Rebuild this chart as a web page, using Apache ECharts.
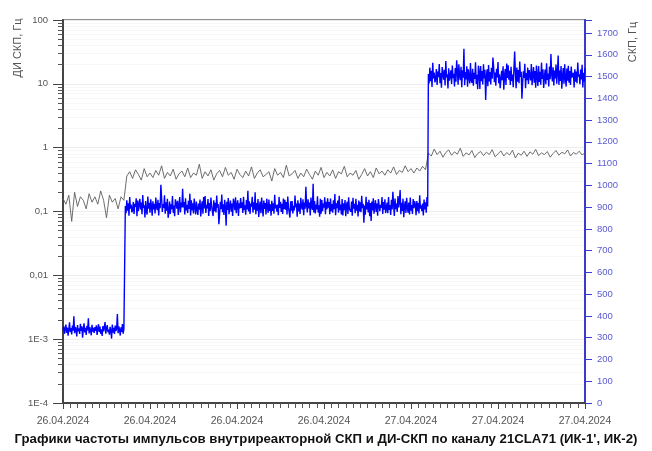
<!DOCTYPE html>
<html>
<head>
<meta charset="utf-8">
<script src="https://cdn.jsdelivr.net/npm/echarts/dist/echarts.min.js"></script>
<style>html,body{margin:0;padding:0;background:#fff}#c{width:652px;height:451px}</style>
</head>
<body>
<div id="c"></div>
<script>
// X axis: hours from 26.04.2024 00:00, labels every 6 h
const xTickLabels = ['26.04.2024','26.04.2024','26.04.2024','26.04.2024','27.04.2024','27.04.2024','27.04.2024'];
const leftTickLabels = ['1E-4','1E-3','0,01','0,1','1','10','100'];
const titleText = "Графики частоты импульсов внутриреакторной СКП и ДИ-СКП по каналу 21CLA71 (ИК-1', ИК-2)";

// СКП, Гц (right axis), sampled every 0.05 h
const skpStepHours = 0.05;
const skpValues = [
335,352,318,341,360,322,347,309,338,371,326,344,315,356,332,398,321,349,337,306,358,329,343,317,364,331,352,300,339,366,324,346,313,355,334,389,320,348,336,311,359,328,345,
322,349,331,357,313,340,362,327,351,318,339,308,354,329,346,372,319,342,358,325,337,314,350,333,296,361,323,345,317,356,330,343,409,321,352,336,310,348,327,363,319,341,332,
905,872,931,884,918,861,947,893,912,876,
887,924,869,915,902,941,858,930,881,912,
938,889,921,868,956,897,909,853,928,882,
866,949,893,920,874,936,905,861,927,890,
915,871,944,901,887,934,862,919,895,1003,
943,878,914,897,955,870,922,884,938,851,
878,926,869,913,891,951,874,907,858,936,
917,893,929,864,908,946,876,921,899,984,
899,923,866,941,885,911,873,929,892,962,
862,932,885,918,871,940,903,867,926,889,
864,917,888,935,857,904,927,870,946,894,
951,873,911,895,937,860,919,882,944,906,
910,859,932,881,920,876,953,898,914,822,
868,925,891,958,877,913,864,934,898,815,
925,887,942,868,906,930,879,916,860,939,
921,886,945,872,909,931,859,918,894,942,
896,922,873,948,886,908,865,933,890,975,
880,927,869,916,903,948,875,922,888,968,
867,919,884,937,855,903,926,872,944,897,
857,930,892,919,866,939,901,874,935,883,
913,861,929,883,918,870,957,895,911,879,
912,863,947,896,924,878,915,869,940,891,
934,888,924,866,949,900,907,852,927,884,
928,871,906,885,953,899,917,856,931,880,
916,869,943,902,889,936,863,921,893,994,
909,876,936,894,921,862,944,903,887,1008,
876,928,871,912,890,950,875,909,856,938,
870,933,881,916,898,945,868,925,890,941,
898,924,867,940,882,914,874,931,891,960,
863,918,895,930,874,952,886,912,867,937,
862,918,886,933,858,905,925,869,945,892,
900,879,926,861,943,893,915,872,938,884,
911,857,930,880,922,877,952,896,915,828,
907,865,948,889,922,876,934,858,919,836,
926,885,941,870,904,932,878,917,861,937,
929,882,911,897,946,869,923,888,936,873,
894,921,872,947,887,910,864,934,889,971,
914,860,940,891,917,878,951,899,926,979,
868,920,883,939,854,902,927,873,943,899,
875,921,866,944,884,910,869,937,895,928,
912,863,928,881,919,871,955,893,908,
881,916,862,935,890,922,874,946,903,
1512,1468,1541,1479,1527,1452,1563,1491,1519,1473,
1488,1535,1461,1523,1497,1558,1470,1516,1449,1544,
1548,1486,1531,1459,1572,1497,1510,1445,1538,1481,
1482,1529,1466,1551,1493,1513,1455,1539,1476,1575,
1524,1463,1556,1503,1484,1545,1451,1529,1495,1628,
1460,1521,1487,1547,1453,1533,1501,1468,1562,1484,
1471,1536,1458,1517,1489,1566,1466,1508,1442,1550,
1520,1443,1548,1479,1526,1464,1557,1492,1531,1392,
1499,1533,1456,1553,1478,1521,1464,1540,1490,1587,
1543,1474,1518,1458,1536,1496,1567,1469,1511,1447,
1453,1526,1483,1547,1440,1505,1535,1461,1560,1494,
1552,1486,1527,1462,1545,1480,1509,1451,1538,1615,
1515,1447,1542,1476,1530,1469,1569,1498,1522,1398,
1471,1524,1494,1559,1446,1516,1483,1541,1466,1530,
1537,1482,1558,1460,1507,1544,1472,1525,1449,1551,
1500,1457,1549,1475,1522,1463,1564,1489,1534,1448,
1496,1532,1465,1561,1485,1514,1455,1546,1488,1604,
1512,1478,1543,1459,1528,1491,1555,1467,1519,1597,
1462,1528,1480,1549,1444,1502,1539,1467,1557,1493,
1454,1537,1481,1550,1472,1526,1462,1546,1495,1508,
1518,1450,1534,1477,1523,1470,1565,1500,1511,
1465,1532,1487,1554,1450,1517,1477,1540
];

// ДИ СКП, Гц (left log axis), sampled every 0.2 h
const diStepHours = 0.2;
const diValues = [
0.16,0.13,0.18,0.07,0.2,0.12,0.17,0.15,0.11,0.19,0.14,0.17,0.13,0.21,0.15,0.08,0.18,0.14,0.16,0.11,0.17,0.15,
0.36,0.42,0.33,0.45,0.38,0.31,0.47,0.35,0.4,0.34,
0.44,0.37,0.52,0.33,0.41,0.36,0.46,0.32,0.39,0.43,
0.35,0.48,0.34,0.4,0.37,0.55,0.33,0.42,0.36,0.45,
0.31,0.39,0.44,0.35,0.49,0.37,0.41,0.32,0.46,0.38,
0.34,0.43,0.36,0.5,0.33,0.4,0.45,0.35,0.38,0.42,
0.3,0.47,0.37,0.41,0.34,0.53,0.36,0.39,0.44,0.33,
0.4,0.35,0.46,0.38,0.32,0.43,0.37,0.49,0.34,0.41,
0.36,0.45,0.33,0.42,0.39,0.51,0.35,0.4,0.37,0.44,
0.32,0.38,0.47,0.36,0.42,0.34,0.48,0.39,0.43,0.37,
0.45,0.4,0.5,0.38,0.44,0.41,0.52,0.42,0.47,0.4,
0.48,0.43,0.51,0.45,
0.82,0.74,0.95,0.78,0.88,0.71,0.84,0.92,0.76,0.86,
0.79,0.98,0.73,0.83,0.77,0.9,0.7,0.81,0.87,0.75,
0.85,0.78,0.93,0.72,0.8,0.89,0.74,0.84,0.77,0.91,
0.69,0.82,0.76,0.88,0.73,0.86,0.79,0.94,0.75,0.83,
0.78,0.87,0.71,0.81,0.9,0.76,0.85,0.8,0.92,0.74,
0.84,0.79,0.88,0.77,0.83
];

const skpData = skpValues.map((v, i) => [+(i * skpStepHours).toFixed(3), v]);
const diData = diValues.map((v, i) => [+(i * diStepHours).toFixed(3), v]);

const FONT = 'Liberation Sans, Arial, sans-serif';
const chart = echarts.init(document.getElementById('c'), null, {renderer: 'canvas'});
chart.setOption({
  animation: false,
  backgroundColor: '#fff',
  textStyle: {fontFamily: FONT},
  grid: {left: 63, right: 67, top: 20, bottom: 48, show: true, borderColor: '#8f8f8f', borderWidth: 2, backgroundColor: 'transparent'},
  title: {
    text: titleText, left: 'center', bottom: 0,
    textStyle: {fontSize: 13.2, fontWeight: 'bold', color: '#111', fontFamily: FONT}
  },
  graphic: [
    {type: 'text', x: 18, y: 48, rotation: Math.PI / 2,
     style: {text: 'ДИ СКП, Гц', align: 'center', verticalAlign: 'middle', fontSize: 11, fill: '#555', fontFamily: FONT}},
    {type: 'text', x: 633, y: 42, rotation: Math.PI / 2,
     style: {text: 'СКП, Гц', align: 'center', verticalAlign: 'middle', fontSize: 11, fill: '#555', fontFamily: FONT}}
  ],
  xAxis: {
    type: 'value', min: 0, max: 36, interval: 6,
    axisLine: {show: true, onZero: false, lineStyle: {color: '#444', width: 2}},
    axisTick: {show: true, length: 6, lineStyle: {color: '#444'}},
    minorTick: {show: true, splitNumber: 12, length: 5, lineStyle: {color: '#555'}},
    splitLine: {show: false},
    axisLabel: {
      margin: 13, fontSize: 10.5, color: '#555',
      formatter: v => xTickLabels[Math.round(v / 6)] || ''
    }
  },
  yAxis: [
    {
      type: 'log', logBase: 10, min: 0.0001, max: 100, position: 'left',
      axisLine: {show: true, lineStyle: {color: '#444', width: 2}},
      axisTick: {show: true, length: 10, lineStyle: {color: '#444'}},
      minorTick: {show: true, splitNumber: 9, length: 5, lineStyle: {color: '#555'}},
      splitLine: {show: true, lineStyle: {color: '#ececec'}},
      minorSplitLine: {show: true, lineStyle: {color: '#f7f7f7'}},
      axisLabel: {
        margin: 15, fontSize: 9.5, color: '#555',
        formatter: v => leftTickLabels[Math.round(Math.log10(v)) + 4] || ''
      }
    },
    {
      type: 'value', min: 0, max: 1760, interval: 100, position: 'right',
      axisLine: {show: true, lineStyle: {color: '#3a3acc', width: 2}},
      axisTick: {show: true, length: 7, lineStyle: {color: '#3a3acc'}},
      splitLine: {show: false},
      axisLabel: {
        margin: 12, fontSize: 9.5, color: '#5a5ad6',
        formatter: v => (v % 100 === 0 ? String(v) : '')
      }
    }
  ],
  series: [
    {
      name: 'ДИ СКП', type: 'line', yAxisIndex: 0, data: diData,
      showSymbol: false, symbol: 'none', sampling: null,
      lineStyle: {color: '#5e5e5e', width: 0.9}, z: 2
    },
    {
      name: 'СКП', type: 'line', yAxisIndex: 1, data: skpData,
      showSymbol: false, symbol: 'none', sampling: null,
      lineStyle: {color: '#0000ff', width: 1.4}, z: 3
    }
  ]
});
</script>
</body>
</html>
